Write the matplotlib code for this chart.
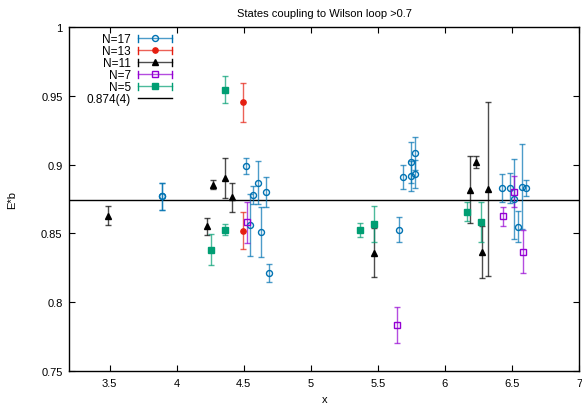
import matplotlib
matplotlib.use("Agg")
import matplotlib.pyplot as plt
from matplotlib.legend_handler import HandlerBase
from matplotlib.lines import Line2D

plt.rcParams['font.family'] = ['Liberation Sans', 'DejaVu Sans']

# ---- data ----
n17_x = [3.888, 3.888, 4.517, 4.604, 4.572, 4.664, 4.547, 4.631, 4.691,
         5.689, 5.746, 5.746, 5.776, 5.776, 5.661,
         6.425, 6.485, 6.515, 6.545, 6.572, 6.604]
n17_y = [0.877, 0.877, 0.899, 0.887, 0.878, 0.880, 0.856, 0.851, 0.821,
         0.891, 0.8915, 0.9017, 0.9084, 0.8932, 0.8527,
         0.883, 0.883, 0.875, 0.855, 0.884, 0.883]
n17_e = [0.010, 0.010, 0.006, 0.0153, 0.0064, 0.0107, 0.0224, 0.018, 0.0066,
         0.0085, 0.011, 0.015, 0.012, 0.010, 0.0093,
         0.0105, 0.011, 0.029, 0.0116, 0.0309, 0.0058]

n13_x = [4.497, 4.497]
n13_y = [0.9453, 0.852]
n13_e = [0.014, 0.0134]

n11_x = [3.485, 4.273, 4.363, 4.410, 4.228, 5.472, 6.187, 6.231, 6.323, 6.276]
n11_y = [0.8629, 0.8854, 0.8905, 0.8762, 0.8552, 0.836, 0.8818, 0.9021, 0.8823, 0.8367]
n11_e = [0.0068, 0.0032, 0.0145, 0.0103, 0.0063, 0.018, 0.0243, 0.0045, 0.063, 0.0189]

n7_x = [4.527, 5.642, 6.437, 6.515, 6.582]
n7_y = [0.858, 0.7837, 0.8624, 0.8803, 0.8367]
n7_e = [0.015, 0.013, 0.0067, 0.0113, 0.0155]

n5_x = [4.358, 4.358, 4.254, 5.368, 5.472, 6.164, 6.269]
n5_y = [0.9545, 0.8527, 0.8382, 0.8525, 0.857, 0.8658, 0.8585]
n5_e = [0.010, 0.004, 0.0113, 0.005, 0.013, 0.0067, 0.0145]

fit_value = 0.874
fit_label = "0.874(4)"

x_ticks = [3.5, 4, 4.5, 5, 5.5, 6, 6.5, 7]
y_ticks = [0.75, 0.8, 0.85, 0.9, 0.95, 1.0]

series = [
    ("N=17", n17_x, n17_y, n17_e, "#0072b2", "o", "none", 4.3),
    ("N=13", n13_x, n13_y, n13_e, "#e51e10", "o", "#e51e10", 3.8),
    ("N=11", n11_x, n11_y, n11_e, "#000000", "^", "#000000", 4.6),
    ("N=7", n7_x, n7_y, n7_e, "#9400d3", "s", "none", 4.6),
    ("N=5", n5_x, n5_y, n5_e, "#009e73", "s", "#009e73", 4.6),
]

fig = plt.figure(figsize=(5.82, 4.06), dpi=100)
ax = fig.add_axes([0.1194, 0.0837, 0.9948 - 0.1194, 0.931 - 0.0837])

for label, xs, ys, es, col, mk, mfc, ms in series:
    ax.errorbar(xs, ys, yerr=es, fmt='none', ecolor=col, elinewidth=1.0,
                capsize=2.5, capthick=1.0, alpha=0.7, zorder=2)
    ax.plot(xs, ys, linestyle='none', marker=mk, markersize=ms,
            markerfacecolor=mfc, markeredgecolor=col, markeredgewidth=1.0, zorder=3)

ax.axhline(fit_value, color='black', lw=1.0, zorder=1)

ax.set_xlim(3.2, 7)
ax.set_ylim(0.75, 1.0)
ax.set_xticks(x_ticks)
ax.set_xticklabels(["3.5", "4", "4.5", "5", "5.5", "6", "6.5", "7"])
ax.set_yticks(y_ticks)
ax.set_yticklabels(["0.75", "0.8", "0.85", "0.9", "0.95", "1"])
ax.tick_params(direction='in', top=True, right=True, length=4, width=0.8,
               labelsize=8, pad=5)
for s in ax.spines.values():
    s.set_linewidth(1.0)

ax.set_title("States coupling to Wilson loop >0.7", fontsize=8, pad=8)
ax.set_xlabel("x", fontsize=8, labelpad=4)
ax.set_ylabel("E*b", fontsize=8, labelpad=17)


class ErrHandler(HandlerBase):
    def __init__(self, col, mk, mfc, ms, show_marker=True, caps=True):
        super().__init__()
        self.col, self.mk, self.mfc, self.ms = col, mk, mfc, ms
        self.show_marker, self.caps = show_marker, caps

    def create_artists(self, legend, orig_handle, xdescent, ydescent,
                       width, height, fontsize, trans):
        y = height / 2 - ydescent
        x0, x1 = -xdescent, width - xdescent
        arts = [Line2D([x0, x1], [y, y], color=self.col, lw=1.0,
                       alpha=0.7 if self.caps else 1.0, transform=trans)]
        if self.caps:
            h = 2.5
            arts.append(Line2D([x0, x0], [y - h, y + h], color=self.col, lw=1.0,
                               transform=trans))
            arts.append(Line2D([x1, x1], [y - h, y + h], color=self.col, lw=1.0,
                               transform=trans))
        if self.show_marker:
            arts.append(Line2D([(x0 + x1) / 2], [y], linestyle='none', marker=self.mk,
                               markersize=self.ms, markerfacecolor=self.mfc,
                               markeredgecolor=self.col, markeredgewidth=1.0,
                               transform=trans))
        return arts


handles, labels, hmap = [], [], {}
for label, xs, ys, es, col, mk, mfc, ms in series:
    h = Line2D([], [])
    handles.append(h)
    labels.append(label)
    hmap[h] = ErrHandler(col, mk, mfc, ms)
hfit = Line2D([], [])
handles.append(hfit)
labels.append(fit_label)
hmap[hfit] = ErrHandler('black', None, None, 0, show_marker=False, caps=False)

ax.legend(handles, labels, handler_map=hmap, loc='upper right',
          bbox_to_anchor=(0.201, 0.982), frameon=False, markerfirst=False,
          fontsize=8.5, handlelength=2.88, handletextpad=0.6, labelspacing=0.0,
          borderaxespad=0.0, borderpad=0.0)

fig.savefig("out.png", dpi=100)
